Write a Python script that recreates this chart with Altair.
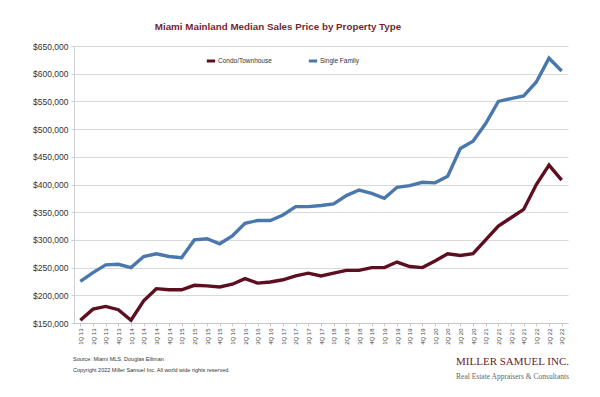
import altair as alt
import pandas as pd

quarters = [f"{q}Q {y:02d}" for y in range(13, 23) for q in range(1, 5)][:39]

single_family = [225000, 241000, 255000, 256000, 250000, 270000, 275000, 270000, 268000,
                 300000, 302000, 293000, 307000, 330000, 335000, 335000, 345000, 360000,
                 360000, 362000, 365000, 380000, 390000, 384000, 375000, 395000, 398000,
                 404000, 403000, 415000, 465000, 478000, 510000, 550000, 555000, 560000,
                 585000, 628000, 605000]

condo = [155000, 175000, 180000, 174000, 155000, 190000, 212000, 210000, 210000,
         218000, 217000, 215000, 220000, 230000, 222000, 224000, 228000, 235000,
         240000, 235000, 240000, 245000, 245000, 250000, 250000, 260000, 252000,
         250000, 262000, 275000, 272000, 275000, 300000, 325000, 340000, 355000,
         400000, 435000, 408000]

series_names = ["Condo/Townhouse", "Single Family"]
series_colors = ["#5e0f1f", "#4a78ad"]

title_text = "Miami Mainland Median Sales Price by Property Type"
source_text = "Source: Miami MLS, Douglas Elliman"
copyright_text = "Copyright 2022 Miller Samuel Inc.  All world wide rights reserved."
logo_text = "MILLER SAMUEL INC."
logo_sub = "Real Estate Appraisers & Consultants"

rows = []
for i, q in enumerate(quarters):
    rows.append({"q": q, "series": series_names[0], "value": condo[i], "order": i})
    rows.append({"q": q, "series": series_names[1], "value": single_family[i], "order": i})
df = pd.DataFrame(rows)

lines = alt.Chart(df).mark_line(strokeWidth=3.4).encode(
    x=alt.X("q:N", sort=quarters, title=None,
            scale=alt.Scale(type="point", padding=0.5),
            axis=alt.Axis(labelAngle=270, labelFontSize=6, labelColor="#444444",
                          labelFont="Liberation Sans", domainColor="#c8c8c8",
                          tickColor="#c8c8c8", tickSize=3, labelPadding=2,
                          labelAlign="right", labelBaseline="middle")),
    y=alt.Y("value:Q", title=None,
            scale=alt.Scale(domain=[150000, 650000], nice=False, zero=False),
            axis=alt.Axis(values=list(range(150000, 650001, 50000)), format="$,.0f",
                          labelFontSize=8.5, labelColor="#333333", labelFont="Liberation Sans",
                          gridColor="#d9d9d9", domainColor="#d0d0d0", tickColor="#d0d0d0",
                          tickSize=3, labelPadding=3)),
    color=alt.Color("series:N", scale=alt.Scale(domain=series_names, range=series_colors),
                    legend=alt.Legend(title=None, orient="none", legendX=131, legendY=9,
                                      direction="horizontal", symbolType="stroke",
                                      symbolSize=70, symbolStrokeWidth=3, labelOffset=1,
                                      labelFontSize=6.5, labelFont="Liberation Sans",
                                      labelColor="#333333", columnPadding=30)),
    order="order:Q",
)

def txt(text, x, y, size, color, font="Liberation Sans", weight="normal", align="left"):
    return alt.Chart(pd.DataFrame({"t": [text]})).mark_text(
        fontSize=size, color=color, font=font, fontWeight=weight, align=align,
        baseline="middle"
    ).encode(text="t:N", x=alt.value(x), y=alt.value(y))

title = txt(title_text, 204, -19, 9.8, "#7a1f33", weight="bold", align="center")
source = txt(source_text, -1, 313, 5.5, "#333333")
copyr = txt(copyright_text, -1, 324, 5.5, "#333333")
logo = txt(logo_text, 495, 316, 11, "#6b1a2c", font="Liberation Serif", align="right")
sub = txt(logo_sub, 495, 331, 7.5, "#666666", font="Liberation Serif", align="right")

chart = alt.layer(lines, title, source, copyr, logo, sub).properties(
    width=494, height=277,
    autosize=alt.AutoSizeParams(type="none"),
    padding={"left": 66, "top": 38, "right": 10, "bottom": 62},
    background="white",
).configure_view(stroke=None)

chart.save("out.html", embed_options={"renderer": "svg", "actions": False})
